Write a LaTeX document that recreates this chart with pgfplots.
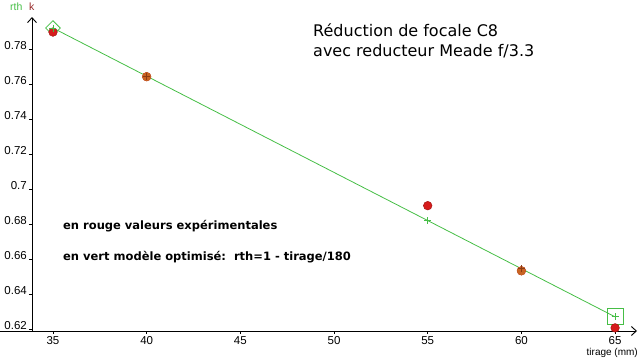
\documentclass[border=0pt]{standalone}
\usepackage{fontspec}
\setmainfont{Liberation Sans}
\newfontfamily\dejavu{DejaVu Sans}
\usepackage{pgfplots}
\pgfplotsset{compat=1.18}
\usetikzlibrary{arrows.meta}
\definecolor{mred}{RGB}{214,28,28}
\definecolor{mredd}{RGB}{165,20,20}
\definecolor{mgreen}{RGB}{70,190,70}
\definecolor{morange}{RGB}{200,100,35}
\definecolor{mbrown}{RGB}{140,60,20}
\definecolor{kred}{RGB}{150,40,40}
\begin{document}
\begin{tikzpicture}[x=1pt,y=1pt]
\useasboundingbox (0,0) rectangle (640,360);
\begin{axis}[at={(32pt,29pt)}, anchor=south west, scale only axis,
  width=605pt, height=314pt,
  xmin=33.88, xmax=66.17, ymin=0.6189, ymax=0.7983,
  axis lines=left, clip=false,
  axis line style={line width=0.9pt, -{Straight Barb[length=5pt,width=9pt]}},
  x axis line style={shorten <=-32pt},
  xtick={35,40,45,50,55,60,65},
  ytick={0.62,0.64,0.66,0.68,0.7,0.72,0.74,0.76,0.78},
  tick align=outside, major tick length=3pt,
  tick style={black, line width=0.8pt},
  ticklabel style={font=\fontsize{11.5}{13}\selectfont},
  /pgf/number format/assume math mode=true,
  yticklabel style={anchor=base east, inner sep=0pt, xshift=-2pt},
  xticklabel style={anchor=north, inner sep=0pt, yshift=-2pt},
]
\addplot[mgreen, line width=0.8pt, mark=none] coordinates {(35,0.792)(40,0.7645)(55,0.682)(60,0.6545)(65,0.627)};
\addplot[only marks, mark=square, mark size=5.2pt, mark options={rotate=45, draw=mgreen, line width=0.8pt}] coordinates {(35,0.792)};
\addplot[only marks, mark=square, mark size=8pt, mark options={draw=mgreen, line width=0.8pt}] coordinates {(65,0.627)};
\addplot[only marks, mark=*, mark size=4.3pt, mark options={fill=mred, draw=mredd, line width=0.5pt}] coordinates {(35,0.7897)(40,0.7642)(55,0.6905)(60,0.6533)(65,0.6207)};
\addplot[only marks, mark=*, mark size=4.3pt, mark options={fill=morange, draw=morange}] coordinates {(40,0.7642)(60,0.6533)};
\addplot[only marks, mark=+, mark size=3.5pt, mgreen, line width=0.9pt] coordinates {(35,0.792)(55,0.682)(65,0.627)};
\addplot[only marks, mark=+, mark size=3.5pt, mbrown, line width=0.9pt] coordinates {(40,0.7645)(60,0.6545)};
\end{axis}
\node[anchor=base west, inner sep=0pt, font=\dejavu\fontsize{16}{20}\selectfont] at (313,324) {Réduction de focale C8};
\node[anchor=base west, inner sep=0pt, font=\dejavu\fontsize{16}{20}\selectfont] at (313,304) {avec reducteur Meade f/3.3};
\node[anchor=base west, inner sep=0pt, font=\dejavu\bfseries\fontsize{11.5}{13}\selectfont] at (63,131) {en rouge valeurs expérimentales};
\node[anchor=base west, inner sep=0pt, font=\dejavu\bfseries\fontsize{11.5}{13}\selectfont] at (63,100) {en vert modèle optimisé:\ \ rth=1 - tirage/180};
\node[anchor=base west, inner sep=0pt, font=\fontsize{10.5}{12}\selectfont, text=mgreen] at (10,350) {rth};
\node[anchor=base west, inner sep=0pt, font=\fontsize{10.5}{12}\selectfont, text=kred] at (29,350) {k};
\node[anchor=base east, inner sep=0pt, font=\fontsize{10}{12}\selectfont] at (638,4.5) {tirage (mm)};
\end{tikzpicture}
\end{document}
